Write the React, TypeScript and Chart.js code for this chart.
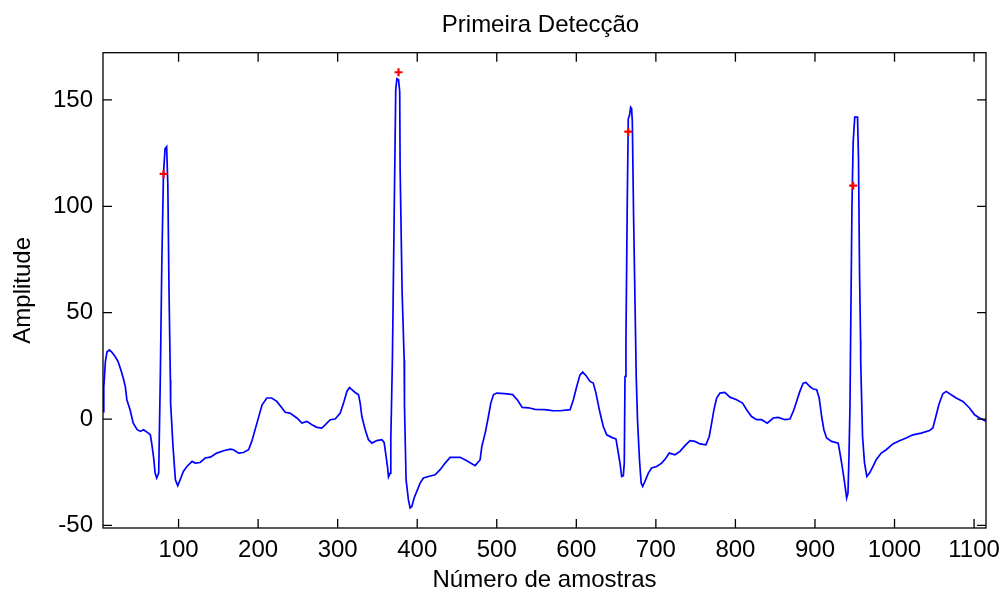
import React, { useEffect, useRef } from 'react';
import { Chart, registerables } from 'chart.js';

Chart.register(...registerables);

// ---- data ----
const sampleX = [
  5, 6, 8, 10, 13, 16, 20, 24, 28, 31, 33, 35, 39, 43, 48, 52, 56, 62, 64.5, 66.5, 68.5, 70.5, 72.5, 75,
  76, 77, 79, 81, 83, 85, 86.5, 88, 89.7, 90, 93, 96, 99, 102, 106, 110.5, 117, 121, 127, 133.5, 140, 148,
  156.5, 165, 169, 175.5, 181.5, 188, 192, 198.5, 205, 211, 217, 223.5, 229.5, 234, 240, 248.7, 255, 261.3,
  267.6, 273.9, 280.1, 284.3, 290.6, 296.9, 303.2, 307.4, 311.6, 314.9, 317.9, 322, 326.2, 328.3, 330.4,
  334.6, 338.7, 343, 349.2, 355.5, 358.4, 360.9, 362.6, 363.9, 366, 366.8, 368.8, 371, 373, 374.5, 376.5,
  378, 378.5, 381, 383.6, 384, 386, 388.9, 391, 393.2, 396.1, 399.5, 403.6, 407.8, 414.1, 422.5, 428.8,
  435.1, 441.4, 454, 462.3, 472.8, 479.1, 481.2, 485.4, 489.5, 492.5, 495.8, 500, 510, 520, 526, 532, 540,
  548, 560, 570, 579.6, 592.1, 596.3, 600.5, 604.6, 608, 613, 617.2, 621.3, 624.7, 628.9, 633.9, 638.2,
  644.5, 649.9, 652.8, 654.9, 657, 659.1, 660.3, 661.2, 662.4, 664, 665.3, 667, 668.3, 669.5, 670.4, 672,
  674, 675.3, 677, 679.4, 681.5, 683.4, 686.3, 690.5, 694.7, 701, 707.3, 712.7, 716.9, 724, 730.3, 736.6,
  742.9, 749.1, 755.4, 762.9, 767.1, 770.1, 773, 776.4, 780.5, 786.8, 793.1, 801.5, 809, 814.1, 820.3,
  826.6, 832.9, 840, 847.5, 853.8, 862.2, 868.5, 872.7, 876.9, 881, 885.2, 888.6, 893.6, 897.8, 902.1,
  905.3, 908.4, 911.2, 914.6, 920.9, 929.2, 932.2, 934.8, 937.3, 939.8, 941.5, 942.7, 944, 944.8, 946.5,
  948, 950, 953.5, 954.7, 956, 957.3, 957.5, 959.8, 962.3, 965.2, 968.6, 972.8, 977, 983.3, 989.6, 997.9,
  1006.3, 1014.7, 1023.1, 1033.5, 1044, 1048.2, 1051.5, 1055.7, 1060.7, 1065, 1071.2, 1077.5, 1085.9,
  1094.3, 1100.6, 1106.9, 1113.2, 1115,
];

const amplitude = [
  3.5, 15, 27, 31.5, 32.5, 31.5, 29.5, 27, 22.5, 18.5, 15.3, 9.1, 4.4, -1.9, -5.0, -5.8, -5.0, -6.6, -7.4,
  -12.1, -17.6, -25.4, -27.7, -25.4,
  -3.5, 18.5, 75, 115, 127, 128, 110, 60, 18.5, 7.5, -12.9, -28.5, -31.3, -28.5, -24.6, -22.3, -19.9, -20.7,
  -20.4, -18.3, -17.9, -16,
  -14.9, -14.1, -14.4, -16, -15.7, -14.4, -10.5, -1.9, 6.7, 9.9, 9.9, 8.3, 5.4, 3.2, 2.8, 0.5, -1.9, -1.1,
  -2.7, -3.9, -4.2, -2.7, -0.3, 0, 2.8, 7.5, 13, 14.8, 13.8, 12.5, 11.4, 7.5, 1.2,
  -5.0, -9.7, -11.3, -10.1, -9.7, -11, -17.6, -22.3, -27.2, -25.4, -9.7, 27.9, 95, 155, 160, 159.5,
  154, 118, 60, 27.9, 5.9, -28.5, -37.9, -41.8, -41.1, -37.1, -34, -30.1, -27.7, -27, -26.2, -23.8,
  -20.7, -18, -18, -19.6, -21.9, -19.1, -12.9, -6.6, 1.2, 7.5, 11.4, 12.2, 12, 11.5, 9, 5.5, 5.3,
  4.6, 4.4, 4, 3.9, 4.4, 9.1, 15.3, 20.8, 22.1, 20, 17.7, 16.9, 12.2, 4.4, -3.5, -7.4,
  -8.6, -9.4, -16, -20.7, -27, -26.6, -20.7, 20, 37.3, 100, 141, 143, 146.6, 146, 139.8, 95,
  50, 20, -1.1, -19.1, -30.1, -31.7, -29.3, -25.4, -23, -22.3, -20.7, -18.3, -16, -16.8, -15.2, -12.5,
  -10.1, -10.5, -11.7, -12.1, -8.2, -1.9, 4.4, 9.9, 12.2, 12.5, 10.3, 9.1, 7.5, 4.4, 1.2,
  -0.3, -0.3, -1.9, 0.5, 0.8, -0.3, 0, 3.6, 8.3, 13, 16.9, 17.2, 15.3, 14.1, 13.8,
  9.9, 1.2, -5.0, -8.9, -10.5, -11.3, -17.6, -23.8, -30.1, -37.1, -34.8, -18.3, 5.9, 37.3, 100,
  130, 141.9, 141.9, 123, 70, 37.3, 27, -8.2, -20.7, -27, -25.4, -22.3, -19.1, -16, -14.4, -11.7,
  -10.2, -8.9, -7.4, -6.6, -5.4, -4.2, 0.5, 6.7, 11.9, 13, 11.4, 9.9, 8.3,
  5.2, 2, 0.5, -0.7, -1,
];

const detectX = [81.2, 376.5, 665.3, 948];
const detectY = [115.2, 163, 135.1, 109.7];

const xTicks = [100, 200, 300, 400, 500, 600, 700, 800, 900, 1000, 1100];
const yTicks = [-50, 0, 50, 100, 150];

const X_MIN = 5;
const X_MAX = 1115;
const Y_MIN = -51.2;
const Y_MAX = 172.2;

const TITLE = 'Primeira Detecção';
const X_LABEL = 'Número de amostras';
const Y_LABEL = 'Amplitude';

const FONT = '"Liberation Sans", Arial, Helvetica, sans-serif';
const FS = 24;

// MATLAB-like axes box with inward ticks, and the title centred over the axes
const boxPlugin = {
  id: 'matlabBox',
  afterDatasetsDraw(chart: any) {
    const { ctx, chartArea: a, scales } = chart;
    const tl = 9;
    ctx.save();
    ctx.strokeStyle = '#000';
    ctx.lineWidth = 1.3;
    ctx.strokeRect(a.left, a.top, a.right - a.left, a.bottom - a.top);
    ctx.beginPath();
    for (const v of xTicks) {
      const p = scales.x.getPixelForValue(v);
      ctx.moveTo(p, a.bottom);
      ctx.lineTo(p, a.bottom - tl);
      ctx.moveTo(p, a.top);
      ctx.lineTo(p, a.top + tl);
    }
    for (const v of yTicks) {
      const p = scales.y.getPixelForValue(v);
      ctx.moveTo(a.left, p);
      ctx.lineTo(a.left + tl, p);
      ctx.moveTo(a.right, p);
      ctx.lineTo(a.right - tl, p);
    }
    ctx.stroke();
    ctx.fillStyle = '#000';
    ctx.font = `${FS}px ${FONT}`;
    ctx.textAlign = 'center';
    ctx.textBaseline = 'alphabetic';
    ctx.fillText(TITLE, (a.left + a.right) / 2 - 4, 32);
    ctx.restore();
  },
};

const zeroPad = (s: any) => {
  s.paddingLeft = 0;
  s.paddingRight = 0;
  s.paddingTop = 0;
  s.paddingBottom = 0;
};

export default function App() {
  const ref = useRef<HTMLCanvasElement | null>(null);

  useEffect(() => {
    if (!ref.current) return;
    const signal = sampleX.map((x, i) => ({ x, y: amplitude[i] }));
    const marks = detectX.map((x, i) => ({ x, y: detectY[i] }));
    const chart = new Chart(ref.current, {
      type: 'line',
      data: {
        datasets: [
          {
            label: 'detections',
            data: marks,
            showLine: false,
            pointStyle: 'cross',
            pointRadius: 4,
            pointBorderWidth: 2.2,
            pointBorderColor: '#ff0000',
            pointBackgroundColor: '#ff0000',
          },
          {
            label: 'signal',
            data: signal,
            borderColor: '#0000ff',
            borderWidth: 1.7,
            pointRadius: 0,
            tension: 0,
            fill: false,
          },
        ],
      },
      options: {
        animation: false,
        responsive: false,
        parsing: false as any,
        layout: { padding: { left: 0, right: 15, top: 52.7, bottom: 0 } },
        plugins: {
          legend: { display: false },
          tooltip: { enabled: false },
          title: { display: false },
        },
        scales: {
          x: {
            type: 'linear',
            min: X_MIN,
            max: X_MAX,
            afterBuildTicks: (s: any) => {
              s.ticks = xTicks.map((v) => ({ value: v }));
            },
            afterFit: (s: any) => {
              s.height = 68;
              zeroPad(s);
            },
            grid: { display: false, drawTicks: false },
            border: { display: false },
            ticks: {
              color: '#000',
              font: { family: FONT, size: FS },
              padding: 8,
              maxRotation: 0,
              autoSkip: false,
              callback: (v: any) => String(v),
            },
            title: {
              display: true,
              text: X_LABEL,
              color: '#000',
              font: { family: FONT, size: FS },
              padding: { top: 0, bottom: 1 },
            },
          },
          y: {
            type: 'linear',
            min: Y_MIN,
            max: Y_MAX,
            afterBuildTicks: (s: any) => {
              s.ticks = yTicks.map((v) => ({ value: v }));
            },
            afterFit: (s: any) => {
              s.width = 103;
              zeroPad(s);
            },
            grid: { display: false, drawTicks: false },
            border: { display: false },
            ticks: {
              color: '#000',
              font: { family: FONT, size: FS },
              padding: 10,
              autoSkip: false,
              callback: (v: any) => String(v),
            },
            title: {
              display: true,
              text: Y_LABEL,
              color: '#000',
              font: { family: FONT, size: FS },
              padding: { top: 9, bottom: 0 },
            },
          },
        },
      },
      plugins: [boxPlugin],
    });
    return () => chart.destroy();
  }, []);

  return (
    <div style={{ position: 'fixed', left: 0, top: 0, width: 1001, height: 596, background: '#fff' }}>
      <canvas ref={ref} width={1001} height={596} style={{ display: 'block' }} />
    </div>
  );
}
